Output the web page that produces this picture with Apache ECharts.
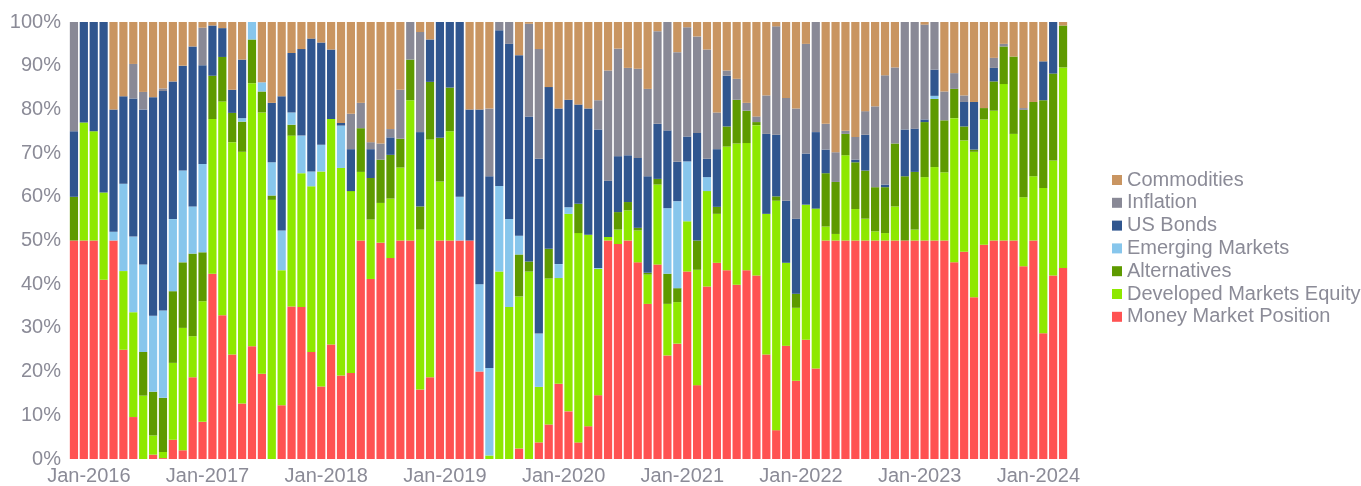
<!DOCTYPE html>
<html>
<head>
<meta charset="utf-8">
<script src="https://cdn.jsdelivr.net/npm/echarts@6/dist/echarts.min.js"></script>
<style>
  html, body { margin: 0; padding: 0; background: #fff; }
  #allocationChart { width: 1361px; height: 486px; }
</style>
</head>
<body>
<div id="allocationChart"></div>
<script>
// monthly categories, Dec-2015 .. Apr-2024 (101 bars)
const monthNames = ["Jan", "Feb", "Mar", "Apr", "May", "Jun", "Jul", "Aug", "Sep", "Oct", "Nov", "Dec"];
const months = [];
for (let i = 0; i < 101; i++) {
  const m = (11 + i) % 12;
  const y = 2015 + Math.floor((11 + i) / 12);
  months.push(monthNames[m] + "-" + y);
}

const yTicks = [0, 10, 20, 30, 40, 50, 60, 70, 80, 90, 100];

const moneyMarket = [
  50, 50, 50, 41, 50, 25, 9.6, 0, 1, 0.2, 4.4, 2, 18.7, 8.5, 42.4, 32.9, 23.9, 12.7, 25.8, 19.5,
  0, 12.3, 34.9, 34.8, 24.5, 16.6, 26.2, 19.1, 19.7, 50, 41.2, 49.5, 46, 50, 50, 15.9, 18.7, 50, 50, 50,
  50, 20, 0, 0, 0, 2.4, 0, 3.8, 7.9, 17.2, 10.9, 3.8, 7.5, 14.6, 50, 49.2, 50, 45, 35.5, 44.5,
  23.7, 26.4, 42.9, 16.9, 39.5, 44.9, 43.2, 39.9, 43.2, 42, 23.9, 6.6, 25.9, 17.9, 27.3, 20.7, 50, 50, 50, 50,
  50, 50, 50, 50, 50, 50, 50, 50, 50, 45, 47.4, 37, 49, 50, 50, 50, 44.1, 50, 28.8, 42, 43.7
];
const developedEquity = [
  0, 27, 25, 20, 0, 18, 24, 14.5, 4.4, 1.4, 17.6, 28, 9.4, 27.6, 35.4, 48.9, 48.6, 57.6, 60.2, 59.8,
  59.3, 30.9, 39.1, 30.6, 37.9, 49.2, 51.6, 47.5, 41.6, 15.7, 13.6, 9.1, 13.6, 16.7, 32.1, 36.6, 54.4, 13.5, 25, 0,
  0, 0, 0.8, 42.9, 34.8, 34.8, 42.9, 12.7, 33.4, 24.2, 45.2, 47.9, 43.8, 28.9, 0.8, 3.3, 6.9, 7.3, 6.7, 18.3,
  11.8, 9.5, 11.5, 26.4, 21.8, 11.2, 28.3, 32.3, 29.1, 34.4, 32.2, 52.5, 19, 16.7, 30.9, 36.6, 3.2, 1.5, 19.5, 7.2,
  5, 2.1, 1.7, 7.8, 0, 2.5, 14.5, 16.8, 15.6, 33, 25.5, 33.3, 28.7, 29.7, 35.8, 24.4, 15.8, 14.7, 33.2, 26.3, 45.9
];
const alternatives = [
  10, 0, 0, 0, 0, 0, 0, 10, 10, 12.4, 16.4, 15, 18.9, 11.2, 9.9, 10.2, 6.7, 6.9, 10, 4.8,
  1, 0, 2.5, 0, 0, 0, 0, 0, 0, 10, 9.5, 9.9, 10, 6.6, 9.3, 5.3, 13.2, 10, 10, 0,
  0, 0, 0, 0, 0, 9.6, 2.3, 0, 6.8, 0, 0, 6.7, 0, 0, 0, 4, 1.9, 0.6, 0.4, 1.3,
  6.9, 3.2, 0, 6.7, 0, 1.6, 4.6, 10, 7.4, 0.7, 0, 1, 0, 3.2, 0, 0, 12.2, 11.9, 4.9, 10.7,
  11, 10.1, 10.5, 14.4, 14.7, 13.2, 12.6, 15.6, 11.9, 6.7, 3.2, 0.5, 2.6, 6.7, 8.6, 17.7, 20, 17, 20.1, 19.9, 9.6
];
const emergingMarkets = [
  0, 0, 0, 0, 2, 20, 17.3, 20, 17.4, 20, 16.5, 21, 10.8, 20.2, 0, 0, 0, 0.8, 4, 2.1,
  7.6, 9.1, 2.8, 8.6, 3.4, 6.1, 0, 9.7, 0, 0, 0, 0, 0, 0, 0, 0, 0, 0, 0, 10,
  0, 20, 20, 19.6, 20.1, 4.3, 0, 12.2, 0, 3.2, 1.5, 0, 0, 0.2, 0, 0, 0, 0, 0, 0,
  15, 19.9, 13.7, 0, 3.2, 0, 0, 0, 0, 0, 0, 0, 0, 0, 0, 0, 0, 0, 0, 0,
  0, 0, 0, 0, 0, 0, 0, 0.7, 0, 0, 0, 0, 0, 0, 0, 0, 0, 0, 0, 0, 0
];
const usBonds = [
  15, 23, 25, 39, 28, 20, 31.6, 35.5, 50, 50.2, 31.5, 24, 36.6, 22.6, 11.5, 6.6, 5.3, 13.4, 0, 0,
  13.6, 30.7, 13.6, 19.8, 30.4, 23.4, 15.9, 0.6, 9.6, 0, 6.6, 0, 4, 0, 0, 17, 9.7, 26.5, 15, 40,
  30, 40, 43.9, 35.6, 40.1, 41.3, 33.2, 40, 37, 35.6, 24.6, 22.7, 28.9, 31.7, 12.9, 12.8, 10.7, 16, 22.1, 12.6,
  17.8, 9, 5.7, 24.6, 4.2, 13.2, 11.6, 0, 0, 0, 18.3, 14.1, 14.2, 17.2, 11.7, 17.5, 5.4, 0, 0, 0.6,
  8.2, 0, 0.6, 0, 10.7, 9.9, 0.6, 6, 0, 0, 5.6, 10.9, 0, 3.1, 0, 0, 0, 0, 8.9, 11.8, 0
];
const inflation = [
  25, 0, 0, 0, 0, 0, 7.9, 4, 0, 0.6, 0, 0, 0, 8.6, 0, 0, 0, 0, 0, 0,
  0, 0, 0, 0, 0, 0, 0, 0, 8.1, 5.8, 1.6, 3.7, 1.9, 11.2, 8.6, 22.9, 0, 0, 0, 0,
  0, 0, 15.5, 1.9, 5, 0, 21.2, 25.1, 0, 0, 0, 0, 0, 6.7, 25.2, 24.6, 20, 20.4, 20, 21.2,
  24.8, 25.1, 25, 22.1, 25, 8.4, 1.2, 4.8, 1.8, 1.3, 8.8, 24.8, 23.5, 25.2, 25.1, 25.2, 5.9, 6.8, 0.7, 5.2,
  5.4, 18.5, 25, 17.4, 24.6, 24.4, 21.7, 10.9, 6.6, 3.6, 1.5, 0, 0, 2.3, 0.6, 0, 0.4, 0, 0, 0, 0
];
const commodities = [
  0, 0, 0, 0, 20, 17, 9.6, 16, 17.2, 15.2, 13.6, 10, 5.6, 1.3, 0.8, 1.4, 15.5, 8.6, 0, 13.8,
  18.5, 17, 7.1, 6.2, 3.8, 4.7, 6.3, 23.1, 21, 18.5, 27.5, 27.8, 24.5, 15.5, 0, 2.3, 4, 0, 0, 0,
  20, 20, 19.8, 0, 0, 7.6, 0.4, 6.2, 14.9, 19.8, 17.8, 18.9, 19.8, 17.9, 11.1, 6.1, 10.5, 10.7, 15.3, 2.1,
  0, 6.9, 1.2, 3.3, 6.3, 20.7, 11.1, 13, 18.5, 21.6, 16.8, 1, 17.4, 19.8, 5, 0, 23.3, 29.8, 24.9, 26.3,
  20.4, 19.3, 12.2, 10.4, 0, 0, 0.6, 0, 15.9, 11.7, 16.8, 18.3, 19.7, 8.2, 5, 7.9, 19.7, 18.3, 9, 0, 0.8
];

const labelColor = "#8b8b97";
const font = "'Liberation Sans', Arial, sans-serif";

const seriesDefs = [
  { name: "Money Market Position", data: moneyMarket, color: "#ff5252" },
  { name: "Developed Markets Equity", data: developedEquity, color: "#8ee800" },
  { name: "Alternatives", data: alternatives, color: "#5e9a00" },
  { name: "Emerging Markets", data: emergingMarkets, color: "#87c6ec" },
  { name: "US Bonds", data: usBonds, color: "#30568f" },
  { name: "Inflation", data: inflation, color: "#898996" },
  { name: "Commodities", data: commodities, color: "#c99561" }
];

const chart = echarts.init(document.getElementById("allocationChart"));

const options = {
  animation: false,
  grid: {
    left: 69,
    right: 293,
    top: 22,
    bottom: 27
  },
  legend: {
    orient: "vertical",
    left: 1107,
    top: 165,
    itemWidth: 10,
    itemHeight: 10,
    itemGap: 2.8,
    icon: "rect",
    data: seriesDefs.map(s => s.name).reverse(),
    textStyle: {
      color: labelColor,
      fontSize: 20,
      fontFamily: font
    }
  },
  xAxis: {
    type: "category",
    data: months,
    axisLine: { show: false },
    axisTick: { show: false },
    axisLabel: {
      interval: (idx) => idx % 12 === 1,
      color: labelColor,
      fontSize: 20,
      fontFamily: font,
      margin: 7,
      padding: [0, 0, 0, 10]
    }
  },
  yAxis: {
    type: "value",
    min: yTicks[0],
    max: yTicks[yTicks.length - 1],
    interval: 10,
    splitLine: { show: false },
    axisLine: { show: false },
    axisTick: { show: false },
    axisLabel: {
      formatter: "{value}%",
      color: labelColor,
      fontSize: 20,
      fontFamily: font,
      margin: 8
    }
  },
  series: seriesDefs.map(s => ({
    name: s.name,
    type: "bar",
    stack: "total",
    barCategoryGap: "17%",
    data: s.data,
    itemStyle: { color: s.color }
  }))
};

chart.setOption(options);
</script>
</body>
</html>
